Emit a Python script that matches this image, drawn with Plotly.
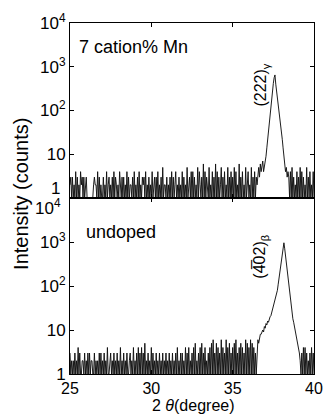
import plotly.graph_objects as go

# ---- data (2-theta grid 25..40 deg, step 0.05 deg; counts) ----
two_theta = [round(25 + 0.05 * i, 2) for i in range(301)]

# 7 cation% Mn sample
mn_noise_low = ("2313121413" "1214231312" "3111111112" "3221413121" "1312141231"
                "2131413212" "1421313121" "4131221314" "1213141213" "2314121312"
                "1412313141" "2131512213" "1213141312" "4121312141" "3121512314"
                "1413121514" "2131614132" "1512141316" "1413125131" "4121513141"
                "3151412161" "3141215134" "1215131413" "245364574")        # 25.00 - 36.90
mn_peak = [5, 6, 9, 14, 22, 35, 56, 89, 158, 224,
           316, 417, 562, 650, 400, 282, 200, 158, 112, 79,
           50, 32, 22, 14, 9, 6, 4, 5, 3, 4]                               # 36.95 - 38.40
mn_noise_high = "3141513121" "4131514131" "2151314121" "41"               # 38.45 - 40.00

# undoped sample
und_noise_low = ("3121213121" "4131122131" "2131312211" "3121213131" "2131214112"
                 "3121312131" "2141213121" "3112312141" "2131413141" "3151213121"
                 "4131213121" "3121312131" "2131213121" "3141213131" "2141314121"
                 "3141512131" "4151314121" "3141516131" "5141316141" "3161415131"
                 "4151613141" "5141316151" "4161514131")                   # 25.00 - 36.45
und_peak = [5, 6, 5, 7, 8, 8, 9, 10, 9, 12,
            11, 14, 13, 16, 15, 18, 20, 21, 25, 28,
            32, 36, 45, 55, 65, 80, 110, 150, 220, 310,
            430, 600, 820, 960, 700, 480, 300, 210, 140, 95,
            60, 44, 32, 24, 18, 15, 12, 9, 7, 6,
            5, 4, 3, 2, 1]                                                  # 36.50 - 39.20
und_noise_high = "3141413121314131"                                        # 39.25 - 40.00

mn_counts = [int(c) for c in mn_noise_low] + mn_peak + [int(c) for c in mn_noise_high]
und_counts = [int(c) for c in und_noise_low] + und_peak + [int(c) for c in und_noise_high]

x_ticks = [25, 30, 35, 40]
y_ticks = [1, 10, 100, 1000, 10000]
y_text_top = ["", "10", "10<sup>2</sup>", "10<sup>3</sup>", "10<sup>4</sup>"]
y_text_bot = ["1", "10", "10<sup>2</sup>", "10<sup>3</sup>", ""]

FONT = "Liberation Sans, Arial, Helvetica, sans-serif"

fig = go.Figure()
fig.add_trace(go.Scatter(x=two_theta, y=mn_counts, mode="lines",
                         line=dict(color="#111111", width=0.95),
                         xaxis="x", yaxis="y", showlegend=False))
fig.add_trace(go.Scatter(x=two_theta, y=und_counts, mode="lines",
                         line=dict(color="#111111", width=0.95),
                         xaxis="x2", yaxis="y2", showlegend=False))

split = 180 / 359
common_x = dict(range=[25, 40], tickvals=x_ticks, ticks="inside", ticklen=4,
                tickcolor="black", showline=True, linecolor="black", linewidth=1,
                mirror="ticks", showgrid=False, zeroline=False,
                tickfont=dict(family=FONT, size=16, color="black"))
common_y = dict(type="log", range=[0, 4], tickvals=y_ticks, ticks="inside", ticklen=4,
                tickcolor="black", showline=True, linecolor="black", linewidth=1,
                mirror="ticks", showgrid=False, zeroline=False,
                tickfont=dict(family=FONT, size=17, color="black"))

fig.update_layout(
    width=334, height=418,
    margin=dict(l=70, r=11, t=15, b=44),
    paper_bgcolor="white", plot_bgcolor="white",
    xaxis=dict(common_x, domain=[0, 1], anchor="y", showticklabels=False),
    yaxis=dict(common_y, domain=[split, 1], anchor="x", ticktext=y_text_top),
    xaxis2=dict(common_x, domain=[0, 1], anchor="y2", showticklabels=True),
    yaxis2=dict(common_y, domain=[0, split], anchor="x2", ticktext=y_text_bot),
)

def px_y(Y):
    return (374 - Y) / 359

def px_x(X):
    return (X - 70) / 253

annots = [
    dict(text="7 cation% Mn", x=px_x(77), y=px_y(40), xanchor="left", yanchor="middle", size=18, angle=0),
    dict(text="undoped", x=px_x(85), y=px_y(229), xanchor="left", yanchor="middle", size=18, angle=0),
    dict(text="(222)<sub>γ</sub>", x=px_x(269), y=px_y(78), xanchor="center", yanchor="middle", size=16, angle=-90),
    dict(text="(4\u0305" + "02)<sub>β</sub>", x=px_x(268), y=px_y(254), xanchor="center", yanchor="middle", size=16, angle=-90),
    dict(text="Intensity (counts)", x=px_x(19), y=px_y(190), xanchor="center", yanchor="middle", size=20, angle=-90),
    dict(text="2 <i>θ</i>(degree)", x=px_x(198), y=px_y(406), xanchor="center", yanchor="middle", size=16, angle=0),
    dict(text="1", x=px_x(62), y=px_y(184), xanchor="right", yanchor="middle", size=17, angle=0),
    dict(text="10<sup>4</sup>", x=px_x(63), y=px_y(203), xanchor="right", yanchor="middle", size=17, angle=0),
]
for a in annots:
    fig.add_annotation(text=a["text"], xref="paper", yref="paper", x=a["x"], y=a["y"],
                       xanchor=a["xanchor"], yanchor=a["yanchor"], textangle=a["angle"],
                       showarrow=False, font=dict(family=FONT, size=a["size"], color="black"))

fig.write_html("out.html")
